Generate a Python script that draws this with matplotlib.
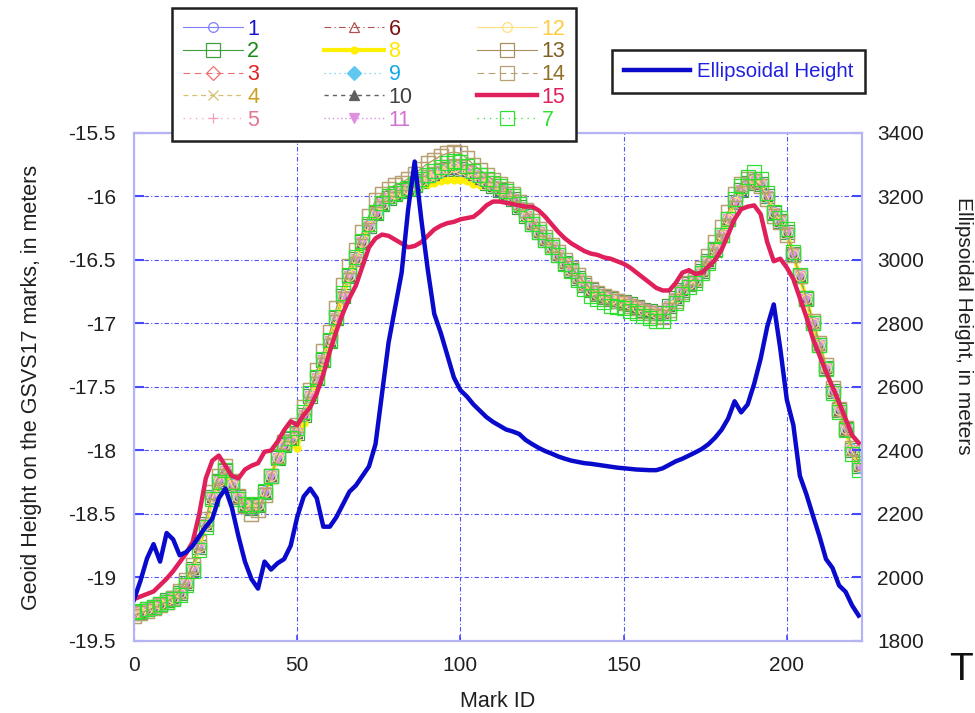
import matplotlib
matplotlib.use("Agg")
import matplotlib.pyplot as plt
import numpy as np

plt.rcParams['font.family'] = ['Liberation Sans', 'DejaVu Sans']
plt.rcParams['font.size'] = 15

# mark ids (every second mark)
mark_id = list(range(0, 223, 2))

# geoid models 1-6, 9-12
geoid_common = [
    -19.28, -19.27, -19.25, -19.23, -19.21, -19.18, -19.16, -19.12, -19.04, -18.93,
    -18.76, -18.58, -18.37, -18.24, -18.16, -18.27, -18.37, -18.43, -18.45, -18.43,
    -18.33, -18.20, -18.06, -17.96, -17.91, -17.86, -17.72, -17.57, -17.43, -17.29,
    -17.14, -16.96, -16.78, -16.63, -16.49, -16.36, -16.23, -16.13, -16.06, -16.01,
    -15.98, -15.96, -15.94, -15.91, -15.88, -15.85, -15.83, -15.80, -15.78, -15.77,
    -15.78, -15.80, -15.83, -15.86, -15.89, -15.92, -15.95, -15.98, -16.02, -16.08,
    -16.15, -16.22, -16.28, -16.34, -16.40, -16.46, -16.52, -16.58, -16.64, -16.70,
    -16.74, -16.77, -16.79, -16.81, -16.82, -16.83, -16.85, -16.87, -16.89, -16.90,
    -16.92, -16.92, -16.86, -16.80, -16.74, -16.69, -16.66, -16.59, -16.51, -16.41,
    -16.30, -16.18, -16.04, -15.95, -15.89, -15.86, -15.90, -16.00, -16.13, -16.19,
    -16.28, -16.45, -16.63, -16.81, -17.00, -17.17, -17.35, -17.53, -17.68, -17.83,
    -18.00, -18.12]

# model 7 (green squares)
geoid_7 = [
    -19.27, -19.26, -19.25, -19.23, -19.21, -19.19, -19.17, -19.14, -19.06, -18.95,
    -18.78, -18.60, -18.38, -18.25, -18.15, -18.25, -18.38, -18.42, -18.44, -18.42,
    -18.32, -18.20, -18.05, -17.95, -17.90, -17.82, -17.70, -17.55, -17.42, -17.28,
    -17.13, -16.95, -16.76, -16.62, -16.48, -16.35, -16.22, -16.12, -16.05, -16.00,
    -15.97, -15.95, -15.93, -15.90, -15.86, -15.83, -15.80, -15.77, -15.74, -15.72,
    -15.73, -15.76, -15.80, -15.83, -15.86, -15.89, -15.92, -15.96, -16.00, -16.06,
    -16.14, -16.22, -16.28, -16.34, -16.40, -16.46, -16.53, -16.59, -16.66, -16.73,
    -16.78, -16.81, -16.83, -16.86, -16.87, -16.88, -16.90, -16.92, -16.94, -16.96,
    -16.98, -16.98, -16.92, -16.84, -16.77, -16.71, -16.68, -16.60, -16.52, -16.42,
    -16.30, -16.18, -16.02, -15.92, -15.85, -15.81, -15.86, -15.97, -16.12, -16.17,
    -16.26, -16.44, -16.62, -16.80, -17.00, -17.17, -17.36, -17.55, -17.70, -17.84,
    -18.03, -18.15]

# model 8 (yellow)
geoid_8 = [
    -19.28, -19.27, -19.25, -19.23, -19.21, -19.18, -19.16, -19.12, -19.04, -18.93,
    -18.76, -18.58, -18.37, -18.24, -18.16, -18.27, -18.37, -18.43, -18.45, -18.43,
    -18.33, -18.20, -18.06, -17.98, -17.95, -17.98, -17.78, -17.58, -17.43, -17.29,
    -17.14, -16.96, -16.78, -16.63, -16.49, -16.36, -16.23, -16.13, -16.06, -16.01,
    -15.98, -15.96, -15.95, -15.93, -15.91, -15.90, -15.89, -15.88, -15.87, -15.87,
    -15.87, -15.88, -15.90, -15.91, -15.92, -15.94, -15.96, -15.99, -16.03, -16.08,
    -16.15, -16.22, -16.28, -16.34, -16.40, -16.46, -16.52, -16.58, -16.64, -16.70,
    -16.74, -16.77, -16.79, -16.81, -16.82, -16.83, -16.85, -16.87, -16.89, -16.90,
    -16.92, -16.92, -16.86, -16.80, -16.74, -16.69, -16.66, -16.59, -16.51, -16.41,
    -16.30, -16.18, -16.04, -15.95, -15.90, -15.88, -15.92, -16.01, -16.14, -16.20,
    -16.29, -16.46, -16.63, -16.81, -17.00, -17.17, -17.35, -17.53, -17.68, -17.83,
    -18.00, -18.12]

# models 13, 14 (brown)
geoid_brown = [
    -19.30, -19.28, -19.26, -19.24, -19.22, -19.19, -19.16, -19.11, -19.02, -18.90,
    -18.72, -18.54, -18.33, -18.20, -18.12, -18.24, -18.36, -18.44, -18.50, -18.47,
    -18.35, -18.20, -18.04, -17.93, -17.87, -17.80, -17.66, -17.52, -17.37, -17.22,
    -17.07, -16.88, -16.70, -16.55, -16.42, -16.28, -16.15, -16.03, -15.98, -15.94,
    -15.91, -15.89, -15.86, -15.82, -15.78, -15.74, -15.71, -15.68, -15.66, -15.65,
    -15.66, -15.70, -15.75, -15.79, -15.83, -15.87, -15.90, -15.94, -15.98, -16.04,
    -16.11, -16.19, -16.26, -16.32, -16.38, -16.44, -16.50, -16.56, -16.62, -16.68,
    -16.73, -16.76, -16.78, -16.80, -16.82, -16.84, -16.86, -16.88, -16.90, -16.92,
    -16.94, -16.95, -16.89, -16.82, -16.75, -16.68, -16.64, -16.56, -16.47, -16.36,
    -16.24, -16.12, -15.98, -15.90, -15.86, -15.88, -15.92, -16.02, -16.15, -16.20,
    -16.30, -16.46, -16.63, -16.80, -16.98, -17.15, -17.33, -17.51, -17.67, -17.82,
    -17.98, -18.10]

# model 15 (crimson)
geoid_15 = [
    -19.17, -19.15, -19.13, -19.11, -19.06, -19.01, -18.95, -18.88, -18.81, -18.72,
    -18.50, -18.22, -18.08, -18.04, -18.12, -18.20, -18.22, -18.15, -18.12, -18.10,
    -18.01, -18.00, -17.93, -17.84, -17.77, -17.80, -17.72, -17.66, -17.55, -17.40,
    -17.22, -17.06, -16.92, -16.80, -16.70, -16.55, -16.40, -16.33, -16.30, -16.31,
    -16.34, -16.37, -16.40, -16.39, -16.36, -16.31, -16.26, -16.23, -16.21, -16.20,
    -16.18, -16.17, -16.16, -16.12, -16.07, -16.04, -16.04, -16.05, -16.06, -16.07,
    -16.08, -16.08, -16.11, -16.16, -16.22, -16.28, -16.33, -16.37, -16.40, -16.43,
    -16.45, -16.46, -16.48, -16.49, -16.51, -16.53, -16.56, -16.60, -16.64, -16.68,
    -16.72, -16.74, -16.74, -16.68, -16.60, -16.58, -16.61, -16.60, -16.55, -16.50,
    -16.42, -16.30, -16.18, -16.10, -16.08, -16.07, -16.14, -16.36, -16.51, -16.49,
    -16.56, -16.65, -16.80, -16.95, -17.12, -17.25, -17.38, -17.50, -17.62, -17.75,
    -17.88, -17.94]

# ellipsoidal height (right axis, m)
ellip_height = [
    1930, 1990, 2060, 2105, 2050, 2140, 2120, 2070, 2080, 2100,
    2130, 2160, 2185, 2250, 2280, 2220, 2130, 2050, 1995, 1965,
    2050, 2025, 2045, 2058, 2100, 2190, 2255, 2280, 2250, 2160,
    2160, 2190, 2230, 2270, 2290, 2320, 2350, 2420, 2580, 2740,
    2850, 2960, 3160, 3310, 3130, 2970, 2830, 2770, 2700, 2630,
    2590, 2570, 2545, 2525, 2505, 2490, 2478, 2466, 2460, 2452,
    2433, 2420, 2408, 2398, 2390, 2381, 2374, 2368, 2364, 2360,
    2358, 2355, 2352, 2349, 2346, 2344, 2342, 2340, 2339, 2338,
    2338, 2344, 2355, 2366, 2374, 2384, 2394, 2405, 2420, 2440,
    2465, 2500, 2555, 2520, 2545, 2610, 2690, 2790, 2860, 2720,
    2560, 2480, 2320, 2262, 2195, 2130, 2058, 2030, 1975, 1955,
    1912, 1880]

# label, data, line colour, text colour, linestyle, linewidth, marker, filled
series = [
    ('1', geoid_common, '#8080ff', '#1414d8', '-', 0.8, 'o', False),
    ('2', geoid_common, '#40a040', '#178a17', '-', 0.8, 's', False),
    ('3', geoid_common, '#f07070', '#e02020', (0, (6, 4)), 0.8, 'D', False),
    ('4', geoid_common, '#d8c070', '#c8a020', (0, (4, 3)), 0.9, 'x', False),
    ('5', geoid_common, '#f0a0b8', '#e07890', (0, (1, 4)), 0.9, '+', False),
    ('6', geoid_common, '#b05050', '#801010', (0, (6, 3, 1, 3)), 0.8, '^', False),
    ('8', geoid_8, '#fff000', '#ffe800', '-', 3.0, 'o', True),
    ('9', geoid_common, '#60c8f0', '#10a8e8', (0, (1, 3)), 0.9, 'D', True),
    ('10', geoid_common, '#606060', '#404040', (0, (3, 3)), 1.0, '^', True),
    ('11', geoid_common, '#e090e0', '#d070d0', (0, (1, 2)), 1.0, 'v', True),
    ('12', geoid_common, '#ffe080', '#ffcc40', '-', 0.8, 'o', False),
    ('13', geoid_brown, '#a89060', '#806020', '-', 0.8, 's', False),
    ('14', geoid_brown, '#b8a070', '#907028', (0, (6, 4)), 0.8, 's', False),
    ('15', geoid_15, '#e0205a', '#e0205a', '-', 3.2, None, False),
    ('7', geoid_7, '#30e030', '#30e030', (0, (1, 4)), 0.9, 's', False),
]

fig = plt.figure(figsize=(9.75, 7.13), dpi=100)
ax = fig.add_axes([0.1374, 0.101, 0.7466, 0.7125])

handles = {}
for lab, vals, lc, tc, ls, lw, mk, filled in series:
    if lab == '15':
        z = 4
    elif lab == '7':
        z = 3
    else:
        z = 2
    if mk == 's':
        ms = 10
    elif lab == '8':
        ms = 5
    else:
        ms = 7
    h, = ax.plot(mark_id, vals, linestyle=ls, color=lc, linewidth=lw,
                 marker=mk, markersize=ms,
                 markerfacecolor=lc if filled else 'none',
                 markeredgecolor=lc, markeredgewidth=0.9, zorder=z, label=lab)
    handles[lab] = (h, tc)

ax.set_xlim(0, 223)
ax.set_ylim(-19.5, -15.5)
ax.set_xticks([0, 50, 100, 150, 200])
ax.set_yticks(np.arange(-19.5, -15.49, 0.5))
ax.set_yticklabels(['-19.5', '-19', '-18.5', '-18', '-17.5', '-17', '-16.5', '-16', '-15.5'])
ax.grid(True, color='#5050ff', linestyle=(0, (4, 2, 1, 2)), linewidth=0.8)
ax.tick_params(axis='y', direction='in', length=7, width=1.5, color='#4848ff',
               pad=13, labelcolor='#202020', labelsize=15)
ax.tick_params(axis='x', direction='in', length=4, width=1.2, color='#4848ff',
               pad=11, labelcolor='#202020', labelsize=15)
for s in ax.spines.values():
    s.set_color('#b4b4f4')
    s.set_linewidth(1.5)
ax.set_xlabel('Mark ID', fontsize=15.5, color='#202020', labelpad=11)
ax.set_ylabel('Geoid Height on the GSVS17 marks, in meters', fontsize=15.5,
              color='#202020', labelpad=19)

ax2 = ax.twinx()
eh, = ax2.plot(mark_id, ellip_height, color='#0a0acc', linewidth=3.2,
               label='Ellipsoidal Height')
ax2.set_ylim(1800, 3400)
ax2.set_yticks(np.arange(1800, 3401, 200))
ax2.tick_params(axis='y', direction='in', length=7, width=1.5, color='#4848ff',
                pad=11, labelcolor='#202020', labelsize=15)
for s in ax2.spines.values():
    s.set_color('#b4b4f4')
    s.set_linewidth(1.5)
fig.text(0.988, 0.5425, 'Ellipsoidal Height, in meters', rotation=270,
         fontsize=15, color='#202020', ha='center', va='center')

# model legend: three columns
order = ['1', '2', '3', '4', '5', '6', '8', '9', '10', '11', '12', '13', '14', '15', '7']
leg = fig.legend([handles[k][0] for k in order], order, loc='upper left',
                 bbox_to_anchor=(0.1764, 0.9888), ncol=3, fontsize=15.5,
                 frameon=True, fancybox=False, edgecolor='#202020',
                 framealpha=1, handlelength=2.8, handletextpad=0.2,
                 columnspacing=3.0, labelspacing=0.08, borderpad=0.5,
                 borderaxespad=0, numpoints=1)
leg.get_frame().set_linewidth(1.8)
for txt, k in zip(leg.get_texts(), order):
    txt.set_color(handles[k][1])

leg2 = fig.legend([eh], ['Ellipsoidal Height'], loc='upper left',
                  bbox_to_anchor=(0.6277, 0.9299), fontsize=14.7, frameon=True,
                  fancybox=False, edgecolor='#202020', framealpha=1,
                  handlelength=3.2, handletextpad=0.35, borderpad=0.6,
                  borderaxespad=0)
leg2.get_frame().set_linewidth(1.8)
leg2.get_texts()[0].set_color('#2020e0')

# slide fragment at the lower right
fig.text(0.973, 0.046, 'T', fontsize=28, color='#101010', ha='left', va='baseline')

fig.savefig('out.png', dpi=100)
